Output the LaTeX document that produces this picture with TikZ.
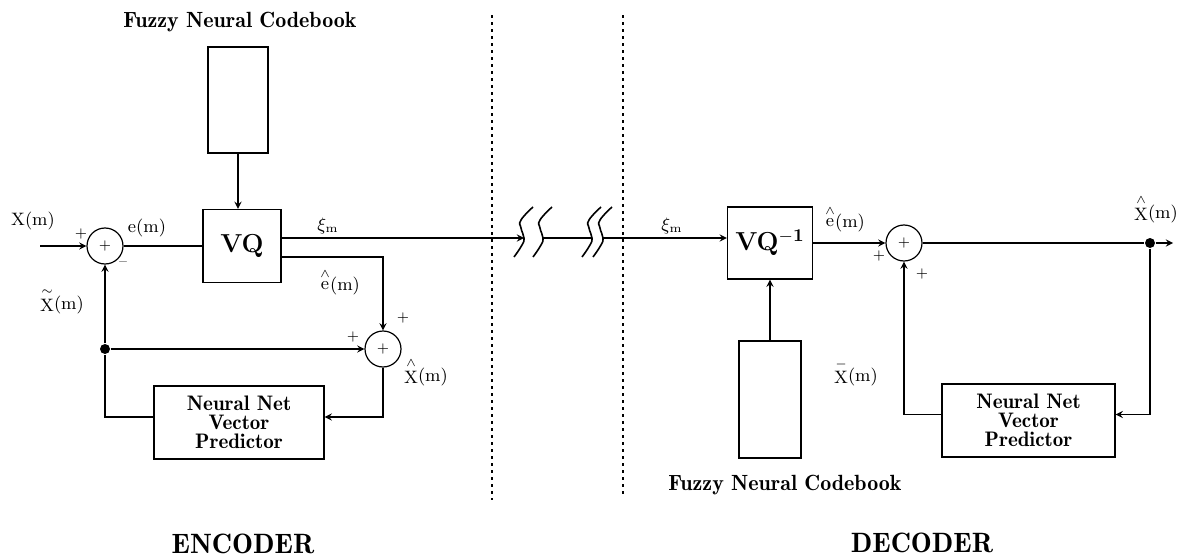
\documentclass[tikz,border=0pt]{standalone}
\usetikzlibrary{positioning}

\begin{document}
\begin{tikzpicture}[>=stealth, x=0.5pt, y=-0.5pt, line width=0.6pt,
    blk/.style={draw, line width=0.7pt, inner sep=0pt},
    sumnode/.style={draw, circle, minimum size=18pt, inner sep=0pt, font=\scriptsize},
    dotnode/.style={circle, fill, inner sep=0pt, minimum size=5pt},
    lbl/.style={font=\small, inner sep=0pt},
    sgn/.style={font=\scriptsize, inner sep=0pt},
    title/.style={font=\fontsize{14}{16}\fontseries{b}\selectfont},
    cbtxt/.style={font=\fontsize{11}{12}\fontseries{b}\selectfont, inner sep=0pt},
    nntxt/.style={font=\fontsize{10.5}{9.5}\fontseries{b}\selectfont, align=center},
    vqtxt/.style={font=\fontsize{13}{15}\bfseries},
    cut/.style={dash pattern=on 1.5pt off 2pt, line width=0.8pt}]

    \useasboundingbox (0,0) rectangle (1185,557);

    % 分隔虚线
    \draw[cut] (492,15) -- (492,500);
    \draw[cut] (623,15) -- (623,495);

    % 编码器：方框与求和点
    \node[cbtxt] (cbEtxt) at (240,22) {Fuzzy Neural Codebook};
    \node[blk, minimum width=30pt, minimum height=53pt] (cbE) at (238,100) {};
    \node[blk, vqtxt, minimum width=39pt, minimum height=36.5pt] (vqE) at (242,246) {VQ};
    \node[sumnode] (sumE) at (105,246) {+};
    \node[sumnode] (sumX) at (383,349) {+};
    \node[dotnode] (dotE) at (105,349) {};
    \node[blk, nntxt, minimum width=85pt, minimum height=36.5pt] (nnE) at (239,422.5) {Neural Net\\Vector\\Predictor};
    \coordinate (inE) at (40,246);

    % 编码器：连线
    \draw[->] (inE) -- (sumE);
    \draw (sumE) -- (vqE);
    \draw[->] (cbE) -- (cbE |- vqE.north);
    \draw[->] ([yshift=-5.5pt]vqE.east) -| (sumX);
    \draw[->] (dotE) -- (sumX);
    \draw[->] (dotE) -- (sumE);
    \draw[->] (sumX) |- ([yshift=2.75pt]nnE.east);
    \draw ([yshift=2.75pt]nnE.west) -| (dotE);

    % 信道断开符号
    \coordinate (brkA) at (524,238);
    \coordinate (brkB) at (543,238);
    \coordinate (brkC) at (592,238);
    \coordinate (brkD) at (603,238);
    \foreach \p in {524,543,592,603}
      \draw[line width=0.8pt] plot[smooth, tension=0.8] coordinates {(\p-10,257) (\p-2,245) (\p,238) (\p-3,228) (\p-3,220) (\p+9,207)};
    \draw[->] ([yshift=4pt]vqE.east) -- (brkA);
    \draw (brkB) -- (brkC);

    % 解码器：方框与求和点
    \node[blk, vqtxt, minimum width=42.5pt, minimum height=36pt] (vqD) at (770,243) {VQ$^{\mathbf{-1}}$};
    \node[blk, minimum width=31pt, minimum height=58.5pt] (cbD) at (770,399.5) {};
    \node[cbtxt] (cbDtxt) at (785,485) {Fuzzy Neural Codebook};
    \node[sumnode] (sumD) at (904,243) {+};
    \node[dotnode] (dotD) at (1150,243) {};
    \node[blk, nntxt, minimum width=86.5pt, minimum height=36.5pt] (nnD) at (1028.5,420.5) {Neural Net\\Vector\\Predictor};
    \coordinate (outD) at (1173,243);

    % 解码器：连线
    \draw[->] (brkD) -- (brkD -| vqD.west);
    \draw[->] (cbD) -- (vqD);
    \draw[->] (vqD) -- (sumD);
    \draw (sumD) -- (dotD);
    \draw[->] (dotD) -- (outD);
    \draw[->] (dotD) |- ([yshift=3pt]nnD.east);
    \draw[->] ([yshift=3pt]nnD.west) -| (sumD);

    % 信号标注
    \node[lbl] (lXin) at (33,221) {X(m)};
    \node[sgn] (pE1) at (81,234) {+};
    \node[lbl] (le) at (147,228) {e(m)};
    \node[sgn] (mE) at (123,264) {--};
    \node[lbl] (lXt) at (62,301) {$\stackrel{\sim}{\mathrm{X}}$(m)};
    \node[lbl] (lxiE) at (328,226) {$\xi_{\mathrm{m}}$};
    \node[lbl] (lehE) at (340,282) {$\stackrel{\wedge}{\mathrm{e}}$(m)};
    \node[sgn] (pE2) at (403,318) {+};
    \node[sgn] (pE3) at (353,337) {+};
    \node[lbl] (lXhE) at (426,372) {$\stackrel{\wedge}{\mathrm{X}}$(m)};
    \node[lbl] (lxiD) at (672,226) {$\xi_{\mathrm{m}}$};
    \node[lbl] (lehD) at (845,219) {$\stackrel{\wedge}{\mathrm{e}}$(m)};
    \node[sgn] (pD1) at (879,256) {+};
    \node[sgn] (pD2) at (922,274) {+};
    \node[lbl] (lXhD) at (1156,209) {$\stackrel{\wedge}{\mathrm{X}}$(m)};
    \node[lbl] (lXb) at (856,372) {$\stackrel{-}{\mathrm{X}}$(m)};

    % 标题
    \node[title] (enc) at (243,544) {ENCODER};
    \node[title] (dec) at (922,543) {DECODER};

\end{tikzpicture}
\end{document}
